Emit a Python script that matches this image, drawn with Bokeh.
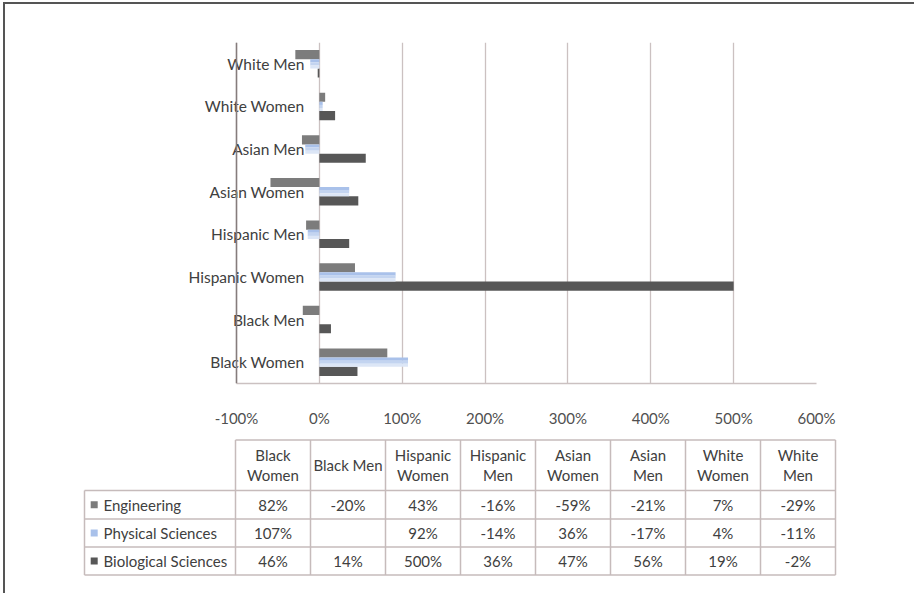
from bokeh.plotting import figure
from bokeh.layouts import column
from bokeh.models import FactorRange, Range1d, ColumnDataSource, FixedTicker, Span, PrintfTickFormatter
from bokeh.transform import dodge
from bokeh.core.properties import value
from bokeh.embed import file_html
from bokeh.resources import INLINE

# Groups, listed bottom-to-top on the chart and left-to-right in the table
groups = ["Black Women", "Black Men", "Hispanic Women", "Hispanic Men",
          "Asian Women", "Asian Men", "White Women", "White Men"]
header_lines = [["Black", "Women"], ["Black Men"], ["Hispanic", "Women"], ["Hispanic", "Men"],
                ["Asian", "Women"], ["Asian", "Men"], ["White", "Women"], ["White", "Men"]]

# Percent change by field
series_names = ["Engineering", "Physical Sciences", "Biological Sciences"]
engineering = [82, -20, 43, -16, -59, -21, 7, -29]
physical = [107, None, 92, -14, 36, -17, 4, -11]
biological = [46, 14, 500, 36, 47, 56, 19, -2]

x_ticks = [-100, 0, 100, 200, 300, 400, 500, 600]

FONT = "Lato"
ENG_COLOR = "#7c7c7c"
BIO_COLOR = "#575757"
PHYS_BANDS = ["#a9c1ea", "#c3d4f0", "#dce6f6"]  # top -> bottom shading
GRID_COLOR = "#cbc1c1"
TEXT_COLOR = "#404040"

# ---------------- bar chart ----------------
# the value scale spans 580 px; extra room on the left keeps the group labels inside the frame
scale_px = 580
label_room_px = 56
x_lo, x_hi = x_ticks[0], x_ticks[-1]
x_start = x_lo - label_room_px * (x_hi - x_lo) / scale_px

p = figure(width=909, height=426,
           x_range=Range1d(x_start, x_hi),
           y_range=FactorRange(factors=groups, range_padding=0),
           y_axis_location=None,
           min_border_left=231 - label_room_px, min_border_right=909 - 231 - scale_px,
           min_border_top=38, min_border_bottom=47,
           output_backend="svg", toolbar_location=None)
p.frame_align = False
p.outline_line_color = None
p.background_fill_color = "white"
p.border_fill_color = "white"
p.ygrid.visible = False
p.xgrid.ticker = FixedTicker(ticks=x_ticks)
p.xgrid.grid_line_color = GRID_COLOR
p.xgrid.grid_line_width = 1.3

ax = p.xaxis[0]
ax.ticker = FixedTicker(ticks=x_ticks)
ax.bounds = (x_lo, x_hi)
ax.formatter = PrintfTickFormatter(format="%d%%")
ax.axis_line_color = GRID_COLOR
ax.axis_line_width = 1.5
ax.major_tick_line_color = None
ax.minor_tick_line_color = None
ax.major_label_standoff = 19
ax.major_label_text_font = FONT
ax.major_label_text_font_size = "15px"
ax.major_label_text_color = "#505050"

# darker line at the left edge of the value scale
p.add_layout(Span(location=x_lo, dimension="height", line_color="#857c7c", line_width=1.5))

bar_h = 0.215
src = ColumnDataSource(dict(group=groups, eng=engineering, bio=biological))
p.hbar(y=dodge("group", bar_h, range=p.y_range), left=0, right="eng", height=bar_h,
       source=src, fill_color=ENG_COLOR, line_color=None)
p.hbar(y=dodge("group", -bar_h, range=p.y_range), left=0, right="bio", height=bar_h,
       source=src, fill_color=BIO_COLOR, line_color=None)

# Physical Sciences bars (no value for one group), shaded in three horizontal bands
phys_groups = [g for g, v in zip(groups, physical) if v is not None]
phys_vals = [v for v in physical if v is not None]
phys_src = ColumnDataSource(dict(group=phys_groups, phys=phys_vals))
band = bar_h / 3
for k, col in enumerate(PHYS_BANDS):
    off = band - k * band
    p.hbar(y=dodge("group", off, range=p.y_range), left=0, right="phys", height=band * 1.05,
           source=phys_src, fill_color=col, line_color=None)

# category labels sit just left of the zero line
p.text(x=0, y="group", text="group", source=src, x_offset=-15,
       text_align="right", text_baseline="middle",
       text_font=value(FONT), text_font_size="15.5px", text_color=TEXT_COLOR)

# ---------------- data table ----------------
t = figure(width=909, height=163,
           x_range=Range1d(5, 914), y_range=Range1d(593, 430),
           x_axis_location=None, y_axis_location=None,
           min_border=0, output_backend="svg", toolbar_location=None)
t.frame_align = False
t.outline_line_color = None
t.grid.visible = False
t.border_fill_color = "white"

TABLE_LINE = "#c6bbbb"
label_left = 84
col_left = 235
col_w = 75
head_top = 439.5
row_edges = [490, 518.5, 546.5, 574.5]
col_edges = [col_left + col_w * i for i in range(len(groups) + 1)]

# horizontal rules
hx0 = [col_left] + [label_left] * len(row_edges)
hx1 = [col_edges[-1]] * (len(row_edges) + 1)
hy = [head_top] + row_edges
t.segment(x0=hx0, y0=hy, x1=hx1, y1=hy, line_color=TABLE_LINE, line_width=1.5)
# vertical rules
vx = [label_left] + col_edges
vy0 = [row_edges[0]] + [head_top] * len(col_edges)
vy1 = [row_edges[-1]] * (len(col_edges) + 1)
t.segment(x0=vx, y0=vy0, x1=vx, y1=vy1, line_color=TABLE_LINE, line_width=1.5)

centers = [col_left + col_w * (i + 0.5) for i in range(len(groups))]
hx, hy_, htxt = [], [], []
head_mid = (head_top + row_edges[0]) / 2
for cx, lines in zip(centers, header_lines):
    if len(lines) == 1:
        hx.append(cx); hy_.append(head_mid); htxt.append(lines[0])
    else:
        hx += [cx, cx]; hy_ += [head_mid - 10, head_mid + 10]; htxt += lines
t.text(x=hx, y=hy_, text=htxt, text_align="center", text_baseline="middle",
       text_font=value(FONT), text_font_size="15px", text_color=TEXT_COLOR)

row_mids = [(row_edges[i] + row_edges[i + 1]) / 2 for i in range(3)]
series_vals = [engineering, physical, biological]
series_cols = [ENG_COLOR, PHYS_BANDS[0], BIO_COLOR]
cx_all, cy_all, ctxt = [], [], []
for ym, vals in zip(row_mids, series_vals):
    for cx, v in zip(centers, vals):
        if v is None:
            continue
        cx_all.append(cx); cy_all.append(ym); ctxt.append(f"{v}%")
t.text(x=cx_all, y=cy_all, text=ctxt, text_align="center", text_baseline="middle",
       text_font=value(FONT), text_font_size="15px", text_color=TEXT_COLOR)

# legend keys and series names in the first column
t.scatter(x=[93.7] * 3, y=row_mids, marker="square", size=7, fill_color=series_cols, line_color=None)
t.text(x=[103] * 3, y=row_mids, text=series_names, text_align="left", text_baseline="middle",
       text_font=value(FONT), text_font_size="15px", text_color=TEXT_COLOR)

layout = column(p, t, spacing=0, margin=(2, 0, 0, 3),
                styles={"border-top": "2px solid #555555", "border-left": "2px solid #555555"})

open("out.html", "w").write(file_html(layout, INLINE))
